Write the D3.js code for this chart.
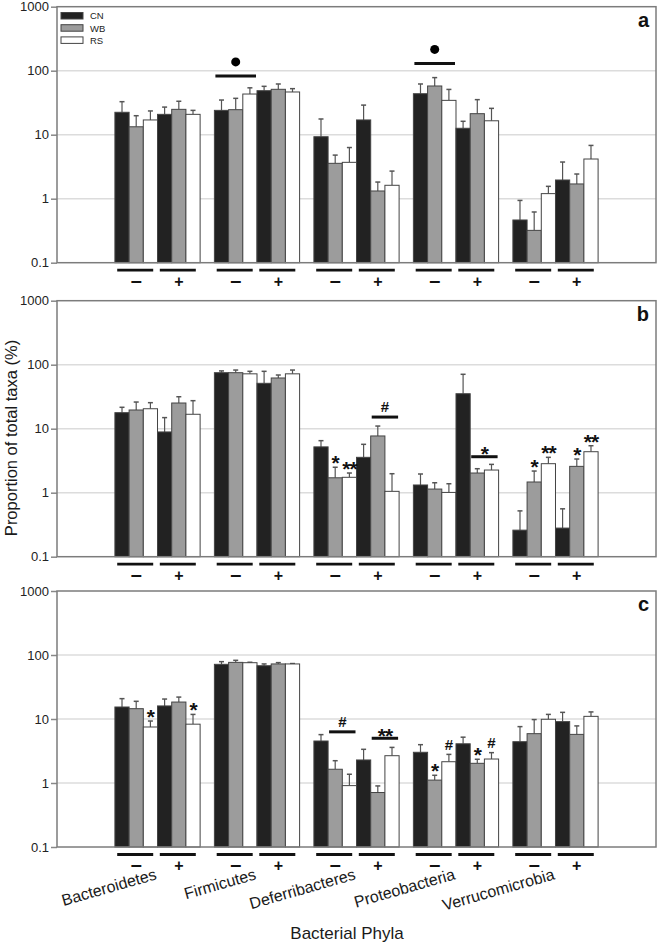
<!DOCTYPE html>
<html>
<head>
<meta charset="utf-8">
<style>
    body { margin: 0; background: #fff; }
    svg { display: block; font-family: "Liberation Sans", Arial, sans-serif; }
</style>
</head>
<body>
    <div id="chart"></div>

    <script src="https://d3js.org/d3.v7.min.js"></script>
    <script type="text/javascript">
        var phyla = ["Bacteroidetes", "Firmicutes", "Deferribacteres", "Proteobacteria", "Verrucomicrobia"];
        var signs = ["\u2013", "+"];
        var groups = ["CN", "WB", "RS"];
        var yTicks = [0.1, 1, 10, 100, 1000];
        var gridValues = [1, 10, 100];
        var panelNames = ["a", "b", "c"];

        // order of each list: Bacteroidetes -, Bacteroidetes +, Firmicutes -, Firmicutes +, ...
        // *Hi = top of the error bar
        var aCN = [22.4, 20.8, 24, 48.7, 9.3, 17, 43.7, 12.6, 0.465, 1.96];
        var aCNHi = [32.8, 27, 34.8, 57, 17.6, 29, 62, 16.2, 0.94, 3.74];
        var aWB = [13.3, 24.9, 24.6, 51.2, 3.57, 1.32, 57.7, 21.3, 0.32, 1.7];
        var aWBHi = [19.8, 33.3, 37, 62, 4.8, 1.82, 78, 35.3, 0.62, 2.43];
        var aRS = [17, 20.8, 43.2, 46.5, 3.7, 1.62, 34.4, 16.5, 1.2, 4.17];
        var aRSHi = [23.5, 24, 54, 52.4, 6.3, 2.7, 51, 25.8, 1.56, 6.8];

        var bCN = [17.8, 8.9, 75, 51.2, 5.2, 3.57, 1.32, 35.2, 0.26, 0.28];
        var bCNHi = [21.6, 14.9, 80, 78.8, 6.5, 5.7, 1.96, 70.8, 0.52, 0.56];
        var bWB = [19.6, 25.2, 75, 62, 1.71, 7.7, 1.14, 2.03, 1.47, 2.58];
        var bWBHi = [26.1, 31.6, 82.5, 69, 2.5, 11, 1.43, 2.37, 2.18, 3.36];
        var bRS = [20.5, 16.8, 72, 72, 1.74, 1.05, 1.01, 2.26, 2.84, 4.37];
        var bRSHi = [25.5, 27.4, 78.8, 82.5, 2.03, 1.98, 1.38, 2.77, 3.57, 5.42];

        var cCN = [15.4, 16, 71.5, 68, 4.53, 2.29, 3.02, 4.1, 4.42, 9.1];
        var cCNHi = [20.8, 20.5, 78.7, 72.5, 5.7, 3.36, 3.97, 5.2, 7.6, 12.7];
        var cWB = [14.5, 18.4, 76.7, 72.5, 1.64, 0.71, 1.11, 2.03, 5.9, 5.75];
        var cWBHi = [18.9, 22, 82.6, 76, 2.23, 0.9, 1.32, 2.35, 9.8, 7.8];
        var cRS = [7.5, 8.3, 75.8, 72.5, 0.91, 2.67, 2.15, 2.37, 9.9, 11];
        var cRSHi = [9.3, 11.8, 77, 73.5, 1.37, 3.6, 2.8, 2.98, 11.8, 12.9];

        // symbols sitting right above one bar
        var barMarks = [
            { panel: "b", phylum: "Deferribacteres", sign: 0, grp: "WB", sym: "*" },
            { panel: "b", phylum: "Deferribacteres", sign: 0, grp: "RS", sym: "**" },
            { panel: "b", phylum: "Verrucomicrobia", sign: 0, grp: "WB", sym: "*" },
            { panel: "b", phylum: "Verrucomicrobia", sign: 0, grp: "RS", sym: "**" },
            { panel: "b", phylum: "Verrucomicrobia", sign: 1, grp: "WB", sym: "*" },
            { panel: "b", phylum: "Verrucomicrobia", sign: 1, grp: "RS", sym: "**" },
            { panel: "c", phylum: "Bacteroidetes", sign: 0, grp: "RS", sym: "*" },
            { panel: "c", phylum: "Bacteroidetes", sign: 1, grp: "RS", sym: "*" },
            { panel: "c", phylum: "Proteobacteria", sign: 0, grp: "WB", sym: "*" },
            { panel: "c", phylum: "Proteobacteria", sign: 0, grp: "RS", sym: "#" },
            { panel: "c", phylum: "Proteobacteria", sign: 1, grp: "WB", sym: "*" },
            { panel: "c", phylum: "Proteobacteria", sign: 1, grp: "RS", sym: "#" }
        ];

        // symbols over a bracket line spanning several bars (level = value on the y axis)
        var lineMarks = [
            { panel: "a", phylum: "Firmicutes", sign: 0, from: "CN", to: "RS", level: 83, sym: "dot" },
            { panel: "a", phylum: "Proteobacteria", sign: 0, from: "CN", to: "RS", level: 130, sym: "dot" },
            { panel: "b", phylum: "Deferribacteres", sign: 1, from: "WB", to: "RS", level: 15.2, sym: "#" },
            { panel: "b", phylum: "Proteobacteria", sign: 1, from: "WB", to: "RS", level: 3.65, sym: "*" },
            { panel: "c", phylum: "Deferribacteres", sign: 0, from: "WB", to: "RS", level: 6.3, sym: "#" },
            { panel: "c", phylum: "Deferribacteres", sign: 1, from: "WB", to: "RS", level: 5.0, sym: "**" }
        ];

        var panelData = [
            { CN: aCN, CNHi: aCNHi, WB: aWB, WBHi: aWBHi, RS: aRS, RSHi: aRSHi },
            { CN: bCN, CNHi: bCNHi, WB: bWB, WBHi: bWBHi, RS: bRS, RSHi: bRSHi },
            { CN: cCN, CNHi: cCNHi, WB: cWB, WBHi: cWBHi, RS: cRS, RSHi: cRSHi }
        ];

        var w = 660;
        var h = 947;
        var plotL = 57, plotR = 656, plotH = 256;
        var tops = [6.7, 300.7, 591];
        var fills = { CN: "#222222", WB: "#9c9c9c", RS: "#ffffff" };

        var svg = d3.select('#chart')
            .append('svg')
            .attr('width', w)
            .attr('height', h);

        var x = d3.scaleBand().domain(phyla).range([plotL, plotR])
            .paddingInner(0.1436).paddingOuter(0.582);
        var xs = d3.scaleBand().domain([0, 1]).range([0, x.bandwidth()]);
        var xg = d3.scaleBand().domain(groups).range([0, xs.bandwidth()]);
        var bw = xg.bandwidth();

        function barX(ph, s, g) {
            return x(ph) + xs(s) + xg(g);
        }

        // visual centre of a glyph above its baseline
        function symStyle(sel, sym) {
            if (sym == "#") {
                sel.attr('font-size', 15).attr('font-weight', 'bold');
                return 5.4;
            }
            sel.attr('font-size', 21).attr('font-weight', 'bold').attr('letter-spacing', -1);
            return 11.5;
        }

        panelData.forEach(function (p, k) {
            var top = tops[k];
            var bottom = top + plotH;
            var name = panelNames[k];
            var y = d3.scaleLog().domain([0.1, 1000]).range([bottom, top]);
            var g = svg.append('g');

            var rows = [];
            phyla.forEach(function (ph, i) {
                [0, 1].forEach(function (s) {
                    groups.forEach(function (gr) {
                        rows.push({ phylum: ph, sign: s, grp: gr, v: p[gr][i * 2 + s], hi: p[gr + "Hi"][i * 2 + s] });
                    });
                });
            });

            g.selectAll('.grid')
                .data(gridValues)
                .enter()
                .append('line')
                .attr('x1', plotL).attr('x2', plotR)
                .attr('y1', function (d) { return y(d); })
                .attr('y2', function (d) { return y(d); })
                .attr('stroke', '#dcdcdc')
                .attr('stroke-width', 1.5);

            // error bars (behind bars)
            var eb = g.selectAll('.err').data(rows).enter().append('g');
            eb.append('line')
                .attr('x1', function (d) { return barX(d.phylum, d.sign, d.grp) + bw / 2; })
                .attr('x2', function (d) { return barX(d.phylum, d.sign, d.grp) + bw / 2; })
                .attr('y1', function (d) { return y(d.v); })
                .attr('y2', function (d) { return y(d.hi); })
                .attr('stroke', '#555')
                .attr('stroke-width', 1.2);
            eb.append('line')
                .attr('x1', function (d) { return barX(d.phylum, d.sign, d.grp) + bw / 2 - 2.5; })
                .attr('x2', function (d) { return barX(d.phylum, d.sign, d.grp) + bw / 2 + 2.5; })
                .attr('y1', function (d) { return y(d.hi); })
                .attr('y2', function (d) { return y(d.hi); })
                .attr('stroke', '#555')
                .attr('stroke-width', 1.5);

            g.selectAll('.bar')
                .data(rows)
                .enter()
                .append('rect')
                .attr('x', function (d) { return barX(d.phylum, d.sign, d.grp); })
                .attr('y', function (d) { return y(d.v); })
                .attr('width', bw)
                .attr('height', function (d) { return y(0.1) - y(d.v); })
                .attr('fill', function (d) { return fills[d.grp]; })
                .attr('stroke', '#444')
                .attr('stroke-width', 1);

            // axis
            var axis = d3.axisLeft(y).tickValues(yTicks).tickFormat(d3.format("~g"))
                .tickSize(6).tickPadding(2);
            var ag = g.append('g')
                .attr('transform', 'translate(' + plotL + ',0)')
                .call(axis)
                .attr('font-size', 13)
                .attr('font-family', null);
            ag.select('.domain').remove();
            ag.selectAll('line').attr('stroke', '#888').attr('stroke-width', 1.5);
            ag.selectAll('text').attr('fill', '#222');

            g.append('rect')
                .attr('x', plotL).attr('y', top)
                .attr('width', plotR - plotL).attr('height', plotH)
                .attr('fill', 'none')
                .attr('stroke', '#7c7c7c')
                .attr('stroke-width', 1.5);

            // - / + under each group
            var cells = [];
            phyla.forEach(function (ph) {
                [0, 1].forEach(function (s) { cells.push({ phylum: ph, sign: s }); });
            });
            g.selectAll('.under')
                .data(cells)
                .enter()
                .append('line')
                .attr('x1', function (d) { return x(d.phylum) + xs(d.sign) + xs.bandwidth() / 2 - 19; })
                .attr('x2', function (d) { return x(d.phylum) + xs(d.sign) + xs.bandwidth() / 2 + 17; })
                .attr('y1', bottom + 7.5)
                .attr('y2', bottom + 7.5)
                .attr('stroke', '#111')
                .attr('stroke-width', 2.8);
            g.selectAll('.sign')
                .data(cells)
                .enter()
                .append('text')
                .text(function (d) { return signs[d.sign]; })
                .attr('x', function (d) { return x(d.phylum) + xs(d.sign) + xs.bandwidth() / 2; })
                .attr('y', bottom + 24.3)
                .attr('text-anchor', 'middle')
                .attr('font-weight', 'bold')
                .attr('font-size', function (d) { return d.sign == 0 ? 20 : 16; })
                .attr('fill', '#111');

            g.append('text')
                .text(name)
                .attr('x', 649)
                .attr('y', top + 20)
                .attr('text-anchor', 'end')
                .attr('font-weight', 'bold')
                .attr('font-size', 20)
                .attr('fill', '#111');

            // significance marks above bars
            barMarks.filter(function (m) { return m.panel == name; }).forEach(function (m) {
                var i = phyla.indexOf(m.phylum) * 2 + m.sign;
                var hi = p[m.grp + "Hi"][i];
                var t = g.append('text')
                    .text(m.sym)
                    .attr('x', barX(m.phylum, m.sign, m.grp) + bw / 2)
                    .attr('text-anchor', 'middle')
                    .attr('fill', '#111');
                var c = symStyle(t, m.sym);
                var gap = m.sym == "#" ? 10 : 8.5;
                t.attr('y', y(hi) - gap + c);
            });

            lineMarks.filter(function (m) { return m.panel == name; }).forEach(function (m) {
                var x1 = barX(m.phylum, m.sign, m.from) + 1;
                var x2 = barX(m.phylum, m.sign, m.to) + bw - 1;
                var ly = y(m.level);
                g.append('line')
                    .attr('x1', x1).attr('x2', x2)
                    .attr('y1', ly).attr('y2', ly)
                    .attr('stroke', '#111')
                    .attr('stroke-width', 3);
                if (m.sym == "dot") {
                    g.append('circle')
                        .attr('cx', (x1 + x2) / 2)
                        .attr('cy', ly - 14)
                        .attr('r', 4.5)
                        .attr('fill', '#000');
                } else {
                    var t = g.append('text')
                        .text(m.sym)
                        .attr('x', (x1 + x2) / 2)
                        .attr('text-anchor', 'middle')
                        .attr('fill', '#111');
                    var c = symStyle(t, m.sym);
                    var gap = m.sym == "#" ? 10 : 7;
                    t.attr('y', ly - gap + c);
                }
            });

            if (k == 0) {
                var lg = g.selectAll('.legend')
                    .data(groups)
                    .enter()
                    .append('g')
                    .attr('transform', function (d, i) { return 'translate(61,' + (top + 5.8 + i * 12.2) + ')'; });
                lg.append('rect')
                    .attr('width', 22).attr('height', 6.5)
                    .attr('fill', function (d) { return fills[d]; })
                    .attr('stroke', '#444')
                    .attr('stroke-width', 1);
                lg.append('text')
                    .text(function (d) { return d; })
                    .attr('x', 29)
                    .attr('y', 6.8)
                    .attr('font-size', 9.5)
                    .attr('fill', '#222');
            }

            if (k == 2) {
                g.selectAll('.phylum')
                    .data(phyla)
                    .enter()
                    .append('text')
                    .text(function (d) { return d; })
                    .attr('transform', function (d) {
                        return 'translate(' + (x(d) + x.bandwidth() / 2) + ',' + (bottom + 32) + ') rotate(-16)';
                    })
                    .attr('text-anchor', 'end')
                    .attr('font-size', 16)
                    .attr('fill', '#1a1a1a');
            }
        });

        svg.append('text')
            .text('Proportion of total taxa (%)')
            .attr('transform', 'translate(16.5,438) rotate(-90)')
            .attr('text-anchor', 'middle')
            .attr('font-size', 16.5)
            .attr('fill', '#1a1a1a');

        svg.append('text')
            .text('Bacterial Phyla')
            .attr('x', 347)
            .attr('y', 939)
            .attr('text-anchor', 'middle')
            .attr('font-size', 17)
            .attr('fill', '#1a1a1a');
    </script>
</body>

</html>
